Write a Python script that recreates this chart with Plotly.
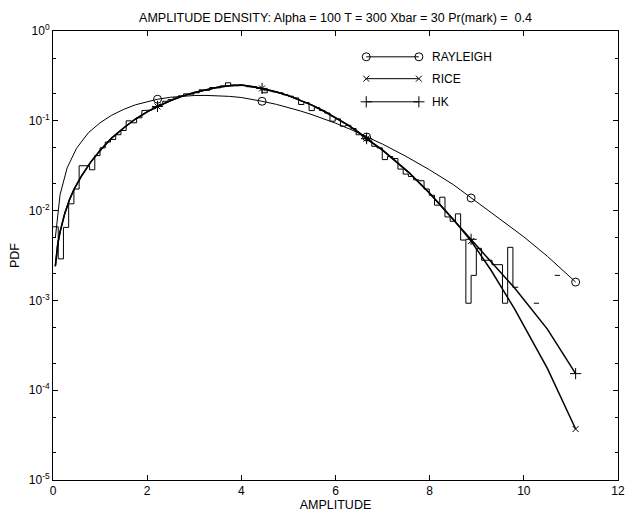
import plotly.graph_objects as go

# ---------------- data ----------------
BIN_WIDTH = 0.111
# histogram densities per bin (bin k spans [k*BIN_WIDTH, (k+1)*BIN_WIDTH]); None = empty bin
hist_density = [
    0.0066, 0.0029, 0.0065, 0.0119, 0.0174, 0.0316, 0.0316, 0.0285, 0.041, 0.050,
    0.058, 0.062, 0.070, 0.078, 0.100, 0.095, 0.108, 0.130, 0.132, 0.140,
    0.150, 0.165, 0.172, 0.180, 0.190, 0.200, 0.198, 0.205, 0.222, 0.218,
    0.235, 0.232, 0.245, 0.265, 0.250, 0.245, 0.248, 0.240, 0.236, 0.230,
    0.205, 0.218, 0.210, 0.205, 0.195, 0.188, 0.180, 0.152, 0.160, 0.130,
    0.140, 0.130, 0.122, 0.099, 0.105, 0.087, 0.089, 0.082, 0.070, 0.068,
    0.060, 0.052, 0.050, 0.037, 0.040, 0.038, 0.029, 0.0255, 0.024, 0.022,
    0.0215, 0.0174, 0.0148, 0.0115, 0.0141, 0.0085, 0.0076, 0.0092, 0.0047, 0.00093,
    0.0019, 0.0038, 0.0028, 0.0028, 0.0025, 0.0025, 0.00093, 0.0039, 0.0014, None,
    None, None, 0.00093, None, None, None, 0.0019, None, None, None,
]

rayleigh_x = [0.05, 0.15, 0.3, 0.5, 0.75, 1.0, 1.25, 1.5, 1.75, 2.0, 2.22, 2.5, 2.75,
              3.0, 3.25, 3.5, 3.75, 4.0, 4.25, 4.44, 4.75, 5.0, 5.25, 5.5, 5.75, 6.0,
              6.33, 6.66, 7.0, 7.5, 8.0, 8.5, 8.88, 9.25, 9.6, 10.0, 10.5, 11.1]
rayleigh_y = [0.0050, 0.0150, 0.0299, 0.0494, 0.0735, 0.0951, 0.1157, 0.1340, 0.1507,
              0.1637, 0.1738, 0.1829, 0.1884, 0.1913, 0.1917, 0.1905, 0.1870, 0.1817,
              0.1728, 0.165, 0.1522, 0.1406, 0.1289, 0.1171, 0.1053, 0.0941, 0.0798,
              0.066, 0.0550, 0.0401, 0.0284, 0.0195, 0.0138, 0.0100, 0.0073, 0.0051,
              0.0031, 0.0016]

fit_x = [0.05, 0.1, 0.15, 0.25, 0.35, 0.45, 0.6, 0.8, 1.0, 1.25, 1.5, 1.75, 2.0, 2.22,
         2.5, 2.75, 3.0, 3.25, 3.5, 3.75, 4.0, 4.25, 4.44, 4.75, 5.0, 5.25, 5.5, 5.75,
         6.0, 6.25, 6.5, 6.66, 7.0, 7.25, 7.56, 8.0, 8.5, 8.88, 9.3, 9.8, 10.5, 11.1]
rice_y = [0.0024, 0.0042, 0.0058, 0.0093, 0.0132, 0.0174, 0.024, 0.0347, 0.0468, 0.0646,
          0.0832, 0.1047, 0.126, 0.1445, 0.168, 0.1884, 0.2065, 0.2228, 0.236, 0.246,
          0.250, 0.240, 0.2294, 0.2097, 0.1908, 0.1704, 0.1493, 0.1285, 0.1088, 0.0905,
          0.0740, 0.0633, 0.0472, 0.0368, 0.0265, 0.0156, 0.0080, 0.00458, 0.00218,
          0.00081, 0.000175, 0.000037]
hk_y = [0.0024, 0.0042, 0.0058, 0.0093, 0.0132, 0.0174, 0.024, 0.0347, 0.0468, 0.0646,
        0.0832, 0.1047, 0.126, 0.1445, 0.168, 0.1884, 0.2065, 0.2228, 0.236, 0.246,
        0.250, 0.240, 0.2294, 0.2097, 0.1908, 0.1704, 0.1493, 0.1285, 0.1088, 0.0905,
        0.0740, 0.0633, 0.0472, 0.0368, 0.0265, 0.0156, 0.0080, 0.00479, 0.00272,
        0.00138, 0.000479, 0.000153]

marker_x = [2.22, 4.44, 6.66, 8.88, 11.1]
rayleigh_marker_y = [0.1738, 0.165, 0.066, 0.0138, 0.0016]
rice_marker_y = [0.1445, 0.2294, 0.0633, 0.00458, 0.000037]
hk_marker_y = [0.1445, 0.2294, 0.0633, 0.00479, 0.000153]

legend_names = ["RAYLEIGH", "RICE", "HK"]
x_ticks = [0, 2, 4, 6, 8, 10, 12]
y_tick_exps = [0, -1, -2, -3, -4, -5]

TITLE = "AMPLITUDE DENSITY: Alpha = 100 T = 300 Xbar = 30 Pr(mark) =  0.4"

# ---------------- build stair path of the histogram ----------------
sx, sy = [], []
for k, v in enumerate(hist_density):
    if v is None:
        if sx and sx[-1] is not None:
            sx.append(None)
            sy.append(None)
        continue
    sx += [k * BIN_WIDTH, (k + 1) * BIN_WIDTH]
    sy += [v, v]

FONT = "Liberation Sans, Arial, sans-serif"
fig = go.Figure()
fig.add_trace(go.Scatter(x=sx, y=sy, mode="lines", connectgaps=False,
                         line=dict(color="black", width=1), showlegend=False,
                         hoverinfo="skip"))
fig.add_trace(go.Scatter(x=rayleigh_x, y=rayleigh_y, mode="lines",
                         line=dict(color="black", width=1), showlegend=False))
fig.add_trace(go.Scatter(x=fit_x, y=rice_y, mode="lines",
                         line=dict(color="black", width=1.5), showlegend=False))
fig.add_trace(go.Scatter(x=fit_x, y=hk_y, mode="lines",
                         line=dict(color="black", width=1.5), showlegend=False))

sym = {"RAYLEIGH": ("circle-open", 8), "RICE": ("x-thin-open", 6), "HK": ("cross-thin-open", 8)}
for name, my in zip(legend_names, [rayleigh_marker_y, rice_marker_y, hk_marker_y]):
    s, size = sym[name]
    fig.add_trace(go.Scatter(x=marker_x, y=my, mode="markers", showlegend=False,
                             marker=dict(symbol=s, size=size, color="black",
                                         line=dict(color="black", width=1))))

# legend drawn on a hidden overlay axis (0..1 box coordinates)
leg_x0, leg_x1 = 0.5544, 0.6476
leg_rows = [0.9425, 0.8938, 0.8423]
for name, yy in zip(legend_names, leg_rows):
    s, size = sym[name]
    fig.add_trace(go.Scatter(x=[leg_x0, leg_x1], y=[yy, yy], mode="lines+markers",
                             xaxis="x2", yaxis="y2", showlegend=False,
                             line=dict(color="black", width=1),
                             marker=dict(symbol=s, size=size, color="black",
                                         line=dict(color="black", width=1))))
    fig.add_annotation(x=0.668, y=yy, xref="x2", yref="y2", text=name, showarrow=False,
                       xanchor="left", yanchor="middle",
                       font=dict(family=FONT, size=12, color="black"))

axis_common = dict(showline=True, linecolor="black", linewidth=1, mirror="ticks",
                   ticks="inside", ticklen=5, tickcolor="black", showgrid=False,
                   zeroline=False, tickfont=dict(family=FONT, size=12, color="black"))

fig.update_layout(
    width=632, height=516,
    margin=dict(l=53, r=7, t=31, b=33),
    paper_bgcolor="white", plot_bgcolor="white",
    showlegend=False,
    title=dict(text=TITLE, x=0.5, xref="paper", y=1 - 18 / 516, yref="container",
               xanchor="center", yanchor="middle",
               font=dict(family=FONT, size=12.5, color="black")),
    xaxis=dict(range=[0, 12], tickvals=x_ticks, ticktext=[str(t) for t in x_ticks],
               title=dict(text="AMPLITUDE", standoff=2,
                          font=dict(family=FONT, size=12.5, color="black")),
               **axis_common),
    yaxis=dict(type="log", range=[-5, 0],
               tickvals=[10.0 ** e for e in y_tick_exps],
               ticktext=["10<sup>%d</sup>" % e for e in y_tick_exps],
               minor=dict(ticks="inside", ticklen=3, tickcolor="black", showgrid=False),
               title=dict(text="PDF", standoff=6,
                          font=dict(family=FONT, size=12.5, color="black")),
               **axis_common),
    xaxis2=dict(overlaying="x", range=[0, 1], visible=False),
    yaxis2=dict(overlaying="y", range=[0, 1], visible=False),
)

fig.write_html("out.html",
               config={"displayModeBar": False},
               post_script="document.body.style.margin='0';"
                           "document.body.style.overflow='hidden';")
